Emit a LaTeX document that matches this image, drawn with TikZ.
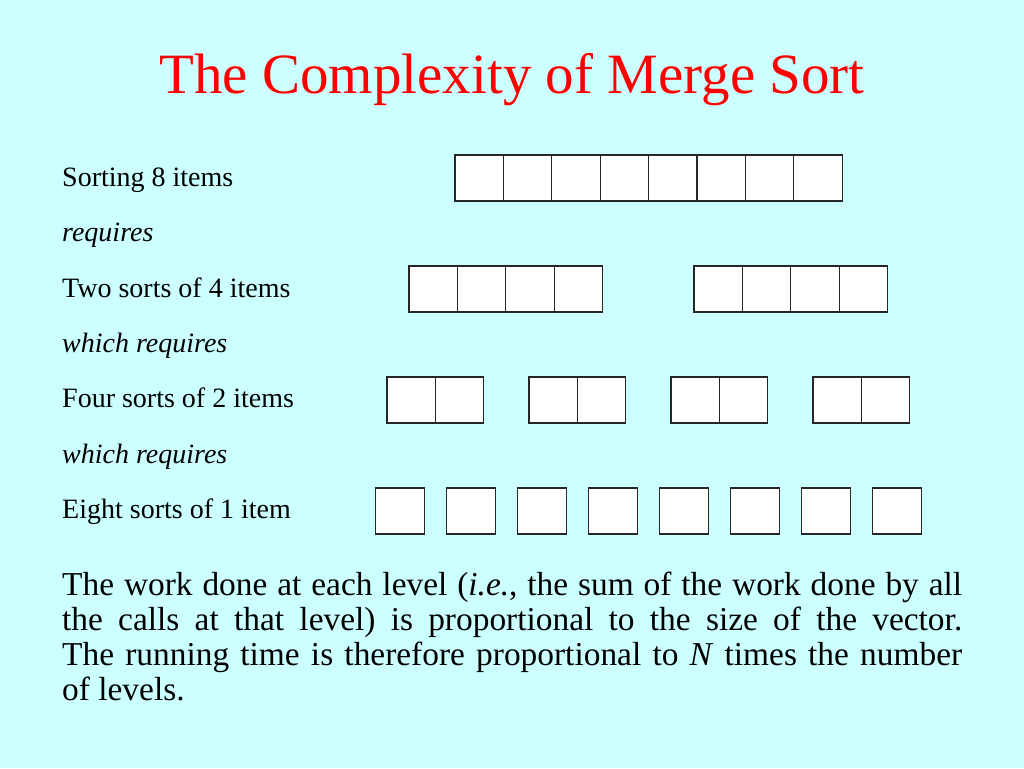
\documentclass[tikz,border=0pt]{standalone}
\usepackage{fontspec}
\setmainfont{Liberation Serif}
\usepackage{xcolor}
\definecolor{clrSlide}{HTML}{CCFFFF}
\definecolor{clrTitle}{HTML}{FF0000}
\begin{document}
\begin{tikzpicture}[x=1pt, y=-1pt,
    cell/.style={rectangle, draw=black!85, fill=white, minimum width=48.4pt, minimum height=46pt, inner sep=0pt, line width=1.2pt},
    lbl/.style={anchor=base west, inner sep=0pt, font=\fontsize{28}{32}\selectfont},
    ilbl/.style={lbl, font=\fontsize{28}{32}\selectfont\itshape},
    titletxt/.style={anchor=base, inner sep=0pt, text=clrTitle, font=\fontsize{57}{64}\selectfont},
    para/.style={anchor=base west, inner sep=0pt, text width=900pt, align=justify, font=\fontsize{33.4}{35}\selectfont\frenchspacing},
]

% Slide background
\fill[clrSlide] (0,0) rectangle (1024,768);
\useasboundingbox (0,0) rectangle (1024,768);

% Title
\node[titletxt] (title) at (512, 93) {The Complexity of Merge Sort};

% Labels on the left
\node[lbl] (l8) at (62, 186) {Sorting 8 items};
\node[ilbl] (req1) at (62, 241) {requires};
\node[lbl] (l4) at (62, 297) {Two sorts of 4 items};
\node[ilbl] (req2) at (62, 352) {which requires};
\node[lbl] (l2) at (62, 407) {Four sorts of 2 items};
\node[ilbl] (req3) at (62, 463) {which requires};
\node[lbl] (l1) at (62, 518) {Eight sorts of 1 item};

% Level 1: one vector of 8
\foreach \i in {0,...,7}
    \node[cell] (va-\i) at ({479.2+48.4*\i}, 178) {};

% Level 2: two vectors of 4
\foreach \g/\gx in {0/433.2, 1/718.2}
    \foreach \i in {0,...,3}
        \node[cell] (vb-\g-\i) at ({\gx+48.4*\i}, 289) {};

% Level 3: four vectors of 2
\foreach \g in {0,...,3}
    \foreach \i in {0,1}
        \node[cell] (vc-\g-\i) at ({411.2+142*\g+48.4*\i}, 400) {};

% Level 4: eight single items
\foreach \i in {0,...,7}
    \node[cell] (vd-\i) at ({400+71*\i}, 511) {};

% Closing remark
\node[para] (remark) at (62, 595) {\hyphenpenalty=10000 The work done at each level (\textit{i.e.}, the sum of the work done by all\linebreak the calls at that level) is proportional to the size of the vector.\linebreak The running time is therefore proportional to \textit{N} times the number\linebreak of levels.};

\end{tikzpicture}
\end{document}
